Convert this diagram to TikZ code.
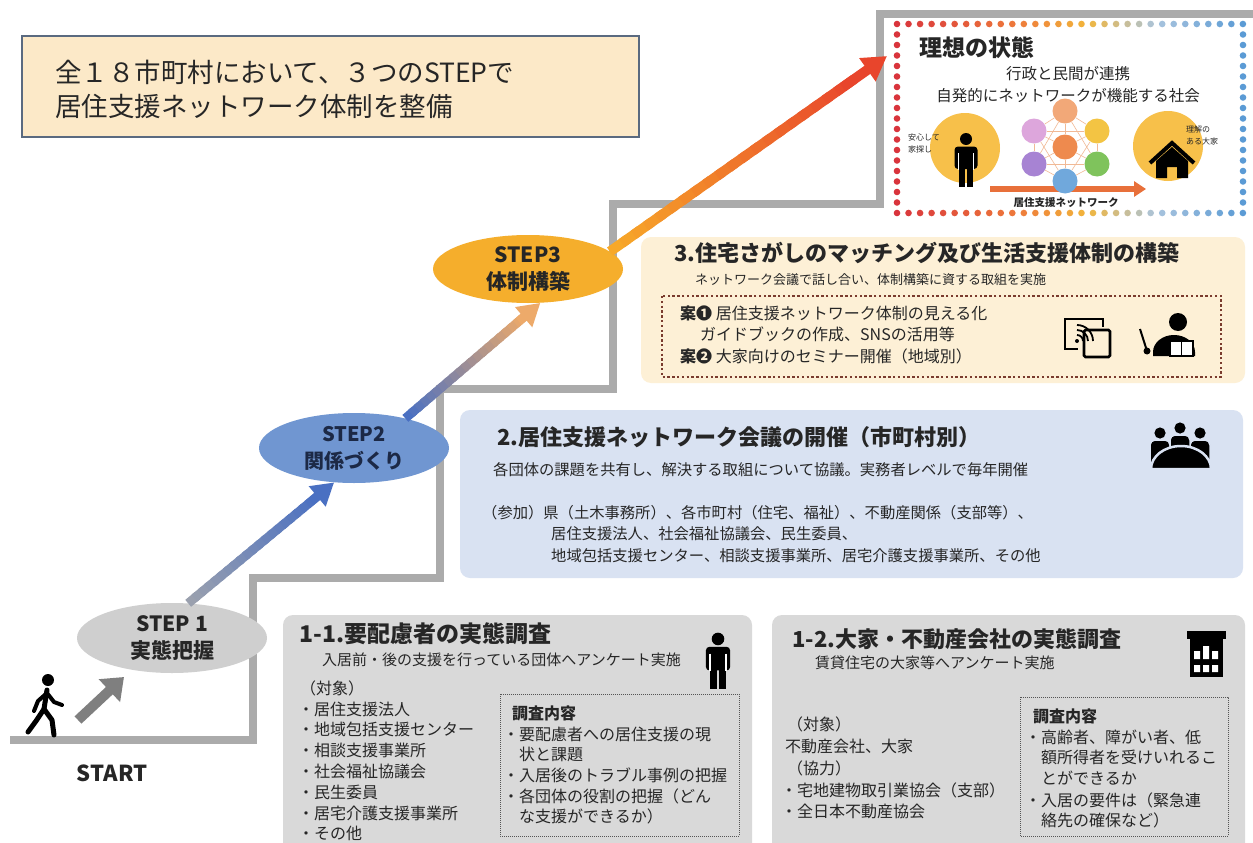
\documentclass[tikz,border=0pt]{standalone}
\usepackage{fontspec}
\setmainfont{Noto Sans CJK JP}
\usepackage{tikz}
\usetikzlibrary{arrows.meta,positioning,calc,shapes.geometric}
\definecolor{ink}{HTML}{262626}
\definecolor{navyink}{HTML}{1C2946}
\definecolor{stairgray}{HTML}{ABABAB}
\definecolor{titlefill}{HTML}{FCE9C8}
\definecolor{titleline}{HTML}{5A6A80}
\definecolor{planfill}{HTML}{FDF0D6}
\definecolor{meetfill}{HTML}{D9E2F2}
\definecolor{surveyfill}{HTML}{D9D9D9}
\definecolor{stepone}{HTML}{CFCFCF}
\definecolor{steptwo}{HTML}{7096D1}
\definecolor{stepthree}{HTML}{F5AE2C}
\definecolor{planbrown}{HTML}{7A3B2E}
\definecolor{checkgray}{HTML}{555555}
\definecolor{arrowgray}{HTML}{7F7F7F}
\definecolor{riseone}{HTML}{9AA0AE}
\definecolor{risetwo}{HTML}{4A70C2}
\definecolor{risethree}{HTML}{EDAA6A}
\definecolor{risefour}{HTML}{F7A829}
\definecolor{risefive}{HTML}{E8452C}
\definecolor{sungold}{HTML}{F7C04A}
\definecolor{flow}{HTML}{E8703A}
\definecolor{dotred}{HTML}{D9343C}
\definecolor{dotorange}{HTML}{EE7A3B}
\definecolor{dotyellow}{HTML}{F2B63B}
\definecolor{dotsky}{HTML}{A9C4DE}
\definecolor{dotblue}{HTML}{5B9BD5}
\definecolor{nettop}{HTML}{F2A878}
\definecolor{netpink}{HTML}{DDA6DC}
\definecolor{netyellow}{HTML}{F3C443}
\definecolor{netcore}{HTML}{EE8A4E}
\definecolor{netviolet}{HTML}{A783D3}
\definecolor{netgreen}{HTML}{7FC35C}
\definecolor{netblue}{HTML}{70A8DC}
\definecolor{netline}{HTML}{F1B995}

\newcommand{\fs}[2]{\fontsize{#1}{#2}\selectfont}

% colour of one dot on the ideal frame, t from 0 (left) to 1 (right)
\newcommand{\setdotcolor}[1]{%
  \pgfmathsetmacro{\dotpos}{#1}%
  \ifdim\dotpos pt<0.35pt
    \pgfmathtruncatemacro{\dotmix}{100-\dotpos/0.35*100}%
    \colorlet{dotc}{dotred!\dotmix!dotorange}%
  \else\ifdim\dotpos pt<0.55pt
    \pgfmathtruncatemacro{\dotmix}{100-(\dotpos-0.35)/0.2*100}%
    \colorlet{dotc}{dotorange!\dotmix!dotyellow}%
  \else\ifdim\dotpos pt<0.75pt
    \pgfmathtruncatemacro{\dotmix}{100-(\dotpos-0.55)/0.2*100}%
    \colorlet{dotc}{dotyellow!\dotmix!dotsky}%
  \else
    \pgfmathtruncatemacro{\dotmix}{100-(\dotpos-0.75)/0.25*100}%
    \colorlet{dotc}{dotsky!\dotmix!dotblue}%
  \fi\fi\fi}

% thick arrow whose colour runs from #3 to #4
\newcommand{\gradarrow}[6]{%
  \foreach \g in {0,...,19}{%
    \pgfmathsetmacro{\ga}{0.86*\g/20}%
    \pgfmathsetmacro{\gb}{0.86*(\g+1.5)/20}%
    \pgfmathtruncatemacro{\gm}{100-\g*5}%
    \draw[#3!\gm!#4,line width=#5] ($(#1)!\ga!(#2)$) -- ($(#1)!\gb!(#2)$);
  }%
  \draw[#4,line width=#5,-{#6}] ($(#1)!0.84!(#2)$) -- (#2);
}

\tikzset{
  standing/.pic={
    \fill (0,-21) circle (6);
    \fill[rounded corners=3.5pt] (-11.5,-13.5) rectangle (11.5,9);
    \fill (-7.2,5) rectangle (-0.7,27);
    \fill (0.7,5) rectangle (7.2,27);
    \draw[white,line width=1.1pt] (-7.6,-7) -- (-7.6,9.6) (7.6,-7) -- (7.6,9.6);
  },
  walker/.pic={
    \fill (0,0) circle (6);
    \draw[line width=5pt,line cap=round,line join=round]
      (-1,10) -- (-4,29) -- (-12,41) -- (-20,52);
    \draw[line width=5pt,line cap=round,line join=round]
      (-4,29) -- (4,40) -- (6,55);
    \draw[line width=4pt,line cap=round,line join=round]
      (-1,13) -- (-10,21) -- (-14,31);
    \draw[line width=4pt,line cap=round,line join=round]
      (-1,13) -- (6,22) -- (14,25);
  },
}

\begin{document}
\begin{tikzpicture}[x=1pt,y=-1pt,
  stair/.style={draw=stairgray,line width=8pt},
  panel/.style={rounded corners=10pt},
  paneltitle/.style={anchor=west,inner sep=0pt,text=ink,font=\bfseries\fs{22}{26}},
  paneltext/.style={anchor=west,inner sep=0pt,text=ink,font=\fs{15.3}{19}},
  listtext/.style={anchor=west,inner sep=0pt,text=ink,font=\fs{16}{20}},
  smalltext/.style={anchor=west,inner sep=0pt,text=ink,font=\fs{8}{10}},
  stepoval/.style={ellipse,minimum width=190pt,minimum height=70pt,inner sep=0pt,
    align=center,font=\bfseries\fs{21}{27}},
  checkline/.style={draw=checkgray,line width=0.9pt,dash pattern=on 0.9pt off 1.1pt},
  netdot/.style={circle,minimum size=25pt,inner sep=0pt},
  ]
  \useasboundingbox (0,0) rectangle (1253,843);
  \fill[white] (0,0) rectangle (1253,843);
  \clip (0,0) rectangle (1253,843);

  % staircase from START up to the ideal state
  \draw[stair] (10,740) -- (253,740) -- (253,578) -- (440,578) -- (440,389)
    -- (613,389) -- (613,204) -- (880,204) -- (880,14) -- (1260,14);

  % headline
  \draw[fill=titlefill,draw=titleline,line width=1.5pt] (22,36) rectangle (639,137);
  \node[anchor=west,inner sep=0pt,text=ink,font=\fs{26.5}{30}] (leadone) at (55,72)
    {全１８市町村において、３つのSTEPで};
  \node[anchor=west,inner sep=0pt,text=ink,font=\fs{26.5}{30}] (leadtwo) at (55,106)
    {居住支援ネットワーク体制を整備};

  % ideal state, framed by coloured dots
  \fill[white] (893,20) rectangle (1247,217);
  \foreach \k in {0,...,30}{
    \setdotcolor{\k/30}
    \fill[dotc] (897+\k*11.53,24) circle (3.3);
    \fill[dotc] (897+\k*11.53,213) circle (3.3);
  }
  \foreach \k in {1,...,17}{
    \fill[dotred] (897,24+\k*10.5) circle (3.3);
    \fill[dotblue] (1243,24+\k*10.5) circle (3.3);
  }
  \node[anchor=west,inner sep=0pt,text=ink,font=\bfseries\fs{23}{27}] (ideal) at (919,48) {理想の状態};
  \node[inner sep=0pt,text=ink,font=\fs{15.5}{19}] (idealone) at (1068,74) {行政と民間が連携};
  \node[inner sep=0pt,text=ink,font=\fs{15.5}{19}] (idealtwo) at (1068,96) {自発的にネットワークが機能する社会};
  \fill[sungold] (965,148) circle (35);
  \fill[sungold] (1168,146) circle (35);
  \pic at (966,160) {standing};
  \node[smalltext] (tenant) at (908,137) {安心して};
  \node[smalltext] (tenanttwo) at (908,149) {家探し};
  % house of the landlord
  \fill (1156,161) -- (1172,147) -- (1188,161) -- (1188,178) -- (1177,178) -- (1177,167)
    -- (1167,167) -- (1167,178) -- (1156,178) -- cycle;
  \draw[line width=4pt,line join=miter] (1150,163) -- (1172,143) -- (1194,163);
  \node[smalltext] (owner) at (1186,129) {理解の};
  \node[smalltext] (ownertwo) at (1186,141) {ある大家};
  \coordinate (flowa) at (990,189);
  \coordinate (flowb) at (1146,189);
  \draw[flow,line width=5.5pt,-{Triangle[length=12pt,width=15pt]}] (flowa) -- (flowb);
  \foreach \nm/\px/\py/\cl in {nt/1065/111/nettop,nl/1034/131/netpink,nr/1097/131/netyellow,
      nc/1065/147/netcore,nbl/1034/164/netviolet,nbr/1097/164/netgreen,nb/1065/181/netblue}
    \node[netdot,fill=\cl] (\nm) at (\px,\py) {};
  \foreach \a/\b in {nt/nl,nl/nbl,nbl/nb,nb/nbr,nbr/nr,nr/nt,nt/nc,nl/nc,nr/nc,nbl/nc,nbr/nc,nb/nc,
      nt/nbl,nt/nbr,nl/nr,nl/nb,nr/nb,nbl/nbr}
    \draw[netline,line width=0.6pt] (\a) -- (\b);
  \node[inner sep=0pt,text=ink,font=\bfseries\fs{10.5}{12}] (flowlabel) at (1066,203) {居住支援ネットワーク};

  % step 3 panel
  \fill[planfill,panel] (641,237) rectangle (1245,383);
  \node[paneltitle] (plan) at (674,253) {3.住宅さがしのマッチング及び生活支援体制の構築};
  \node[anchor=west,inner sep=0pt,text=ink,font=\fs{13}{16}] (plansub) at (695,280)
    {ネットワーク会議で話し合い、体制構築に資する取組を実施};
  \draw[draw=planbrown,line width=2.4pt,dash pattern=on 2.4pt off 2.4pt] (662,296) rectangle (1221,377);
  \node[listtext] (ideaone) at (680,313) {{\bfseries 案❶}\ 居住支援ネットワーク体制の見える化};
  \node[listtext] (ideaonetwo) at (700,334) {ガイドブックの作成、SNSの活用等};
  \node[listtext] (ideatwo) at (680,356) {{\bfseries 案❷} 大家向けのセミナー開催（地域別）};
  % tablet with signal
  \draw[line width=2.8pt] (1090,319) -- (1065,319) -- (1065,349) -- (1078,349);
  \draw[line width=2.8pt,fill=planfill,rounded corners=1.5pt] (1084,330) rectangle (1110,357);
  \draw[line width=2.8pt] (1090,319) -- (1103,319) -- (1103,327);
  \fill (1077,341) circle (2);
  \foreach \r in {6,11,16}
    \draw[line width=1.8pt] ($(1077,341)+(\r,0)$) arc[start angle=0,end angle=-90,radius=\r];
  % lecturer with pointer
  \fill (1178,322) circle (9);
  \fill (1153,356) -- (1153,352) arc[start angle=180,end angle=360,x radius=21,y radius=17] -- (1195,356) -- cycle;
  \draw[line width=2pt] (1140,329) -- (1147,351);
  \fill (1147,351) circle (3.5);
  \draw[line width=1.6pt,fill=white] (1170,341) rectangle (1193,356);
  \draw[line width=1.2pt] (1181.5,341) -- (1181.5,356);

  % step 2 panel
  \fill[meetfill,panel] (460,410) rectangle (1243,578);
  \node[paneltitle] (meet) at (497,437) {2.居住支援ネットワーク会議の開催（市町村別）};
  \node[paneltext] (meetsub) at (493,470) {各団体の課題を共有し、解決する取組について協議。実務者レベルで毎年開催};
  \node[paneltext] (joinone) at (482,513) {（参加）県（土木事務所）、各市町村（住宅、福祉）、不動産関係（支部等）、};
  \node[paneltext] (jointwo) at (551,534) {居住支援法人、社会福祉協議会、民生委員、};
  \node[paneltext] (jointhree) at (551,556) {地域包括支援センター、相談支援事業所、居宅介護支援事業所、その他};
  % people round a table
  \foreach \hx/\hy in {1160/433,1200/433,1180/428}{
    \fill (\hx,\hy) circle (5.6);
    \draw[meetfill,line width=1.5pt,fill=black,rounded corners=5pt] (\hx-10,\hy+7) rectangle (\hx+10,\hy+34);
  }
  \draw[meetfill,line width=2.5pt,fill=black] (1151,469) arc[start angle=180,end angle=360,x radius=30,y radius=23] -- cycle;

  % survey panels
  \fill[surveyfill,panel] (283,615) rectangle (752,860);
  \node[paneltitle,font=\bfseries\fs{23}{27}] (needs) at (299,634) {1-1.要配慮者の実態調査};
  \node[paneltext,font=\fs{15}{19}] (needssub) at (322,660) {入居前・後の支援を行っている団体へアンケート実施};
  \pic[scale=1.05] at (718,661) {standing};
  \node[listtext] (needsfor) at (300,688) {（対象）};
  \foreach \txt [count=\j from 0] in {居住支援法人,地域包括支援センター,相談支援事業所,
      社会福祉協議会,民生委員,居宅介護支援事業所,その他}
    \node[listtext] (needsitem\j) at (298,709+\j*20.8) {・\txt};
  \draw[checkline] (500,694) rectangle (739,836);
  \node[listtext,font=\bfseries\fs{16}{20}] (needscheck) at (512,713) {調査内容};
  \node[listtext] (needsq1) at (503,734) {・要配慮者への居住支援の現};
  \node[listtext] (needsq1b) at (519,754) {状と課題};
  \node[listtext] (needsq2) at (503,775) {・入居後のトラブル事例の把握};
  \node[listtext] (needsq3) at (503,796) {・各団体の役割の把握（どん};
  \node[listtext] (needsq3b) at (519,816) {な支援ができるか）};

  \fill[surveyfill,panel] (772,615) rectangle (1245,860);
  \node[paneltitle] (owners) at (792,639) {1-2.大家・不動産会社の実態調査};
  \node[paneltext,font=\fs{15}{19}] (ownerssub) at (815,663) {賃貸住宅の大家等へアンケート実施};
  % office building
  \fill (1187,631) rectangle (1226,639);
  \fill (1190,639) rectangle (1223,677);
  \fill[white] (1194,651) rectangle (1200,659) (1203,646) rectangle (1209,659) (1212,651) rectangle (1218,659);
  \fill[white] (1194,665) rectangle (1200,672) (1203,665) rectangle (1209,672) (1212,665) rectangle (1218,672);
  \node[listtext] (ownersfor) at (787,724) {（対象）};
  \node[listtext] (ownerswho) at (785,746) {不動産会社、大家};
  \node[listtext] (ownershelp) at (787,768) {（協力）};
  \node[listtext] (ownersh1) at (781,790) {・宅地建物取引業協会（支部）};
  \node[listtext] (ownersh2) at (781,811) {・全日本不動産協会};
  \draw[checkline] (1020,697) rectangle (1228,836);
  \node[listtext,font=\bfseries\fs{16}{20}] (ownerscheck) at (1033,716) {調査内容};
  \node[listtext] (ownersq1) at (1025,737) {・高齢者、障がい者、低};
  \node[listtext] (ownersq1b) at (1041,757) {額所得者を受けいれるこ};
  \node[listtext] (ownersq1c) at (1041,778) {とができるか};
  \node[listtext] (ownersq2) at (1025,800) {・入居の要件は（緊急連};
  \node[listtext] (ownersq2b) at (1041,820) {絡先の確保など）};

  % the three steps
  \node[stepoval,fill=stepone,text=ink] (s1) at (172,638) {STEP 1\\実態把握};
  \node[stepoval,fill=steptwo,text=navyink,font=\bfseries\fs{20}{27}] (s2) at (354,448) {STEP2\\関係づくり};
  \node[stepoval,fill=stepthree,text=ink,minimum height=68pt] (s3) at (528,269) {STEP3\\体制構築};

  \gradarrow{s1.65}{s2.240}{riseone}{risetwo}{9pt}{Triangle[length=22pt,width=25pt]}
  \gradarrow{s2.30}{s3.290}{risetwo}{risethree}{9pt}{Triangle[length=22pt,width=25pt]}
  \coordinate (goal) at (887,56);
  \gradarrow{s3.12}{goal}{risefour}{risefive}{10pt}{Triangle[length=24pt,width=27pt]}

  % START
  \pic at (48,680) {walker};
  \coordinate (walkfrom) at (78,720);
  \coordinate (walkto) at (124,677);
  \draw[arrowgray,line width=10pt,-{Triangle[length=20pt,width=30pt]}] (walkfrom) -- (walkto);
  \node[inner sep=0pt,text=ink,font=\bfseries\fs{22}{26}] (start) at (112,773) {START};
\end{tikzpicture}
\end{document}
